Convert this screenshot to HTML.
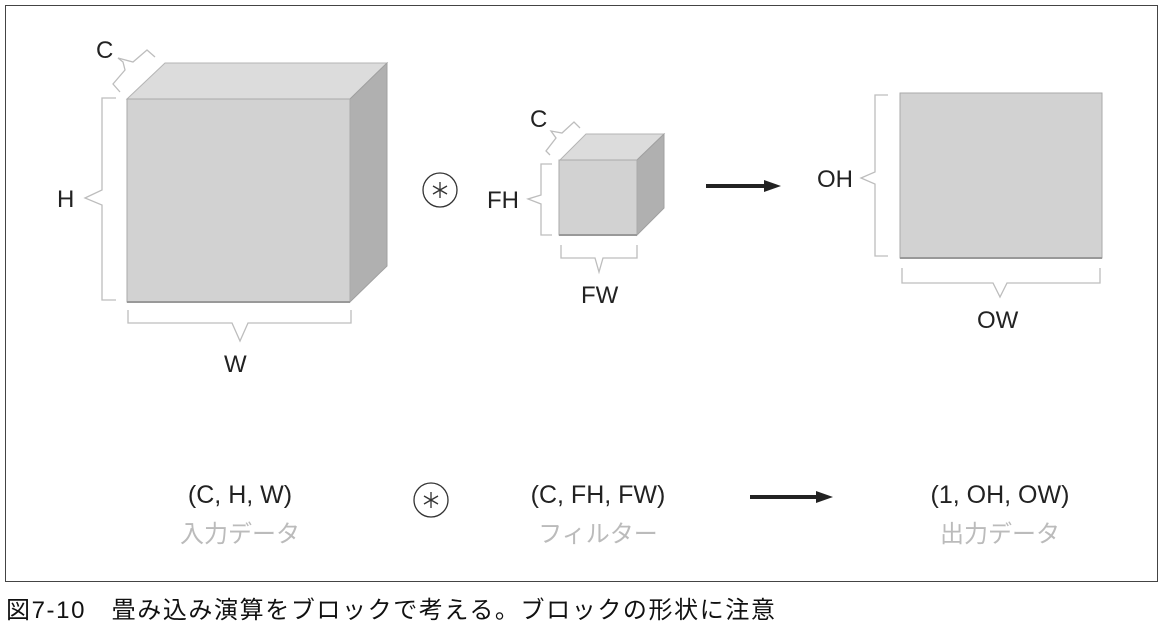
<!DOCTYPE html>
<html><head><meta charset="utf-8"><style>
body{margin:0;background:#fff;width:1163px;height:629px;overflow:hidden}
svg text{font-family:"Liberation Sans","Noto Sans CJK JP",sans-serif}
</style></head><body>
<svg width="1163" height="629" viewBox="0 0 1163 629" xmlns="http://www.w3.org/2000/svg">
<rect x="5.5" y="5.5" width="1152" height="576" fill="#fff" stroke="#444" stroke-width="1"/>
<g stroke="#bdbdbd" stroke-width="1.3" fill="none">
<polyline points="116,98 102,98 102,190 85,198 102,205 102,300 116,300"/>
<polyline points="128,310 128,323 232,323 240,341 248,323 351,323 351,310"/>
<polyline points="120,92 113,84 125,70 123,62 118,58 133,62 147,50 155,57"/>
<polyline points="552,164 541,164 541,195 528,199 541,204 541,235 552,235"/>
<polyline points="561,245 561,258 595,258 599,272 603,258 637,258 637,245"/>
<polyline points="550,155 546,151 556,138 551,131 562,133 574,122 580,128"/>
<polyline points="888,95 875,95 875,172 861,178 875,184 875,256 888,256"/>
<polyline points="902,268 902,283 993,283 1000,297 1007,283 1100,283 1100,268"/>
</g>
<polygon points="127,99 165,63 387,63 350,99" fill="#dcdcdc" stroke="#b5b5b5"/>
<polygon points="350,99 387,63 387,266 350,302" fill="#b0b0b0" stroke="#a0a0a0"/>
<rect x="127" y="99" width="223" height="203" fill="#d2d2d2" stroke="#aaa"/>
<line x1="127" y1="302" x2="350" y2="302" stroke="#999" stroke-width="2"/>
<polygon points="560,160 586,134 664,134 637,160" fill="#dcdcdc" stroke="#b5b5b5"/>
<polygon points="637,160 664,134 664,208 637,235" fill="#b0b0b0" stroke="#a0a0a0"/>
<rect x="559" y="160" width="78" height="75" fill="#d2d2d2" stroke="#aaa"/>
<line x1="559" y1="235" x2="637" y2="235" stroke="#999" stroke-width="2"/>
<rect x="900" y="93" width="202" height="165" fill="#d2d2d2" stroke="#aaa"/>
<line x1="900" y1="258" x2="1102" y2="258" stroke="#999" stroke-width="2"/>
<line x1="706" y1="186" x2="766" y2="186" stroke="#222" stroke-width="4"/>
<polygon points="764,180 781,186 764,192" fill="#222"/>
<line x1="750" y1="497" x2="818" y2="497" stroke="#222" stroke-width="4"/>
<polygon points="816,491 833,497 816,503" fill="#222"/>
<g stroke="#333" fill="none" stroke-width="1.3">
<circle cx="440" cy="190" r="17"/>
<circle cx="431" cy="500" r="17"/>
<path d="M440,182v16M433,186l14,8M433,194l14,-8"/>
<path d="M431,492v16M424,496l14,8M424,504l14,-8"/>
</g>
<g font-size="24" fill="#222">
<text x="96" y="58">C</text>
<text x="57" y="207">H</text>
<text x="224" y="372">W</text>
<text x="530" y="127">C</text>
<text x="487" y="208">FH</text>
<text x="581" y="303">FW</text>
<text x="817" y="187">OH</text>
<text x="977" y="328">OW</text>
<text x="240" y="503" text-anchor="middle" font-size="25">(C, H, W)</text>
<text x="598" y="503" text-anchor="middle" font-size="25">(C, FH, FW)</text>
<text x="1000" y="503" text-anchor="middle" font-size="25">(1, OH, OW)</text>
</g>
<g font-size="24" fill="#bbb">
<text x="240" y="542" text-anchor="middle">入力データ</text>
<text x="598" y="542" text-anchor="middle">フィルター</text>
<text x="1000" y="542" text-anchor="middle">出力データ</text>
</g>
<text x="6" y="618" font-size="24" letter-spacing="1.6" fill="#111">図7-10　畳み込み演算をブロックで考える。ブロックの形状に注意</text>
</svg>
</body></html>
